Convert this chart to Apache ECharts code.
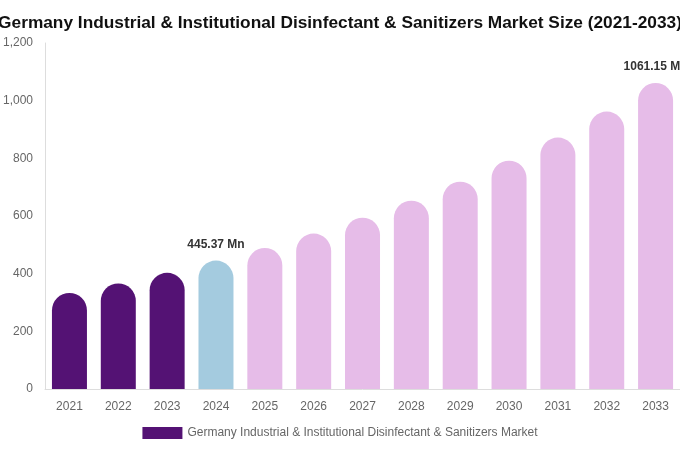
<!DOCTYPE html>
<html>
<head>
<meta charset="utf-8">
<script src="https://cdn.jsdelivr.net/npm/echarts@6/dist/echarts.min.js"></script>
<style>html,body{margin:0;padding:0;background:#fff}#c{width:680px;height:450px}</style>
</head>
<body>
<div id="c"></div>
<script>
const categories = ['2021','2022','2023','2024','2025','2026','2027','2028','2029','2030','2031','2032','2033'];
const values = [333, 366, 403, 445.37, 489, 539, 594, 653, 719, 792, 872, 962, 1061.15];
const labelled = { '2024': '445.37 Mn', '2033': '1061.15 Mn' };
const historicColor = '#541274';
const baseColor = '#a4cbdf';
const forecastColor = '#e6bce8';
const seriesName = 'Germany Industrial & Institutional Disinfectant & Sanitizers Market';

const data = values.map((v, i) => {
  const yr = categories[i];
  const c = +yr < 2024 ? historicColor : (+yr === 2024 ? baseColor : forecastColor);
  const item = { value: v, itemStyle: { color: c } };
  if (labelled[yr]) {
    item.label = { show: true, position: 'top', distance: 10, formatter: labelled[yr],
      fontSize: 12, fontWeight: 'bold', color: '#333', fontFamily: 'Liberation Sans, Arial, sans-serif' };
  }
  return item;
});

const chart = echarts.init(document.getElementById('c'));
chart.setOption({
  animation: false,
  title: {
    text: 'Germany Industrial & Institutional Disinfectant & Sanitizers Market Size (2021-2033)',
    left: 'center', top: 10,
    textStyle: { fontSize: 17.3, fontWeight: 'bold', color: '#111', fontFamily: "'Liberation Sans', Arial, sans-serif" }
  },
  legend: {
    bottom: 6, left: 'center', itemWidth: 40, itemHeight: 12, itemGap: 6, icon: 'rect',
    textStyle: { color: '#666', fontSize: 12, fontFamily: 'Liberation Sans, Arial, sans-serif' },
    data: [{ name: seriesName, itemStyle: { color: historicColor } }]
  },
  grid: { left: 44, right: 0, top: 43, bottom: 61, containLabel: false },
  xAxis: {
    type: 'category', data: categories,
    axisLine: { show: true, lineStyle: { color: '#ddd' } },
    axisTick: { show: false },
    axisLabel: { color: '#666', fontSize: 12, margin: 12, fontFamily: 'Liberation Sans, Arial, sans-serif' }
  },
  yAxis: {
    type: 'value', min: 0, max: 1200, interval: 200,
    axisLine: { show: true, lineStyle: { color: '#ddd' } },
    axisTick: { show: false },
    splitLine: { show: false },
    axisLabel: { color: '#666', fontSize: 12, margin: 12, fontFamily: 'Liberation Sans, Arial, sans-serif',
      formatter: v => v.toLocaleString('en-US') }
  },
  series: [{
    name: seriesName, type: 'bar', data: data, barWidth: 35,
    itemStyle: { color: historicColor, borderRadius: [18, 18, 0, 0] }
  }]
});
</script>
</body>
</html>
